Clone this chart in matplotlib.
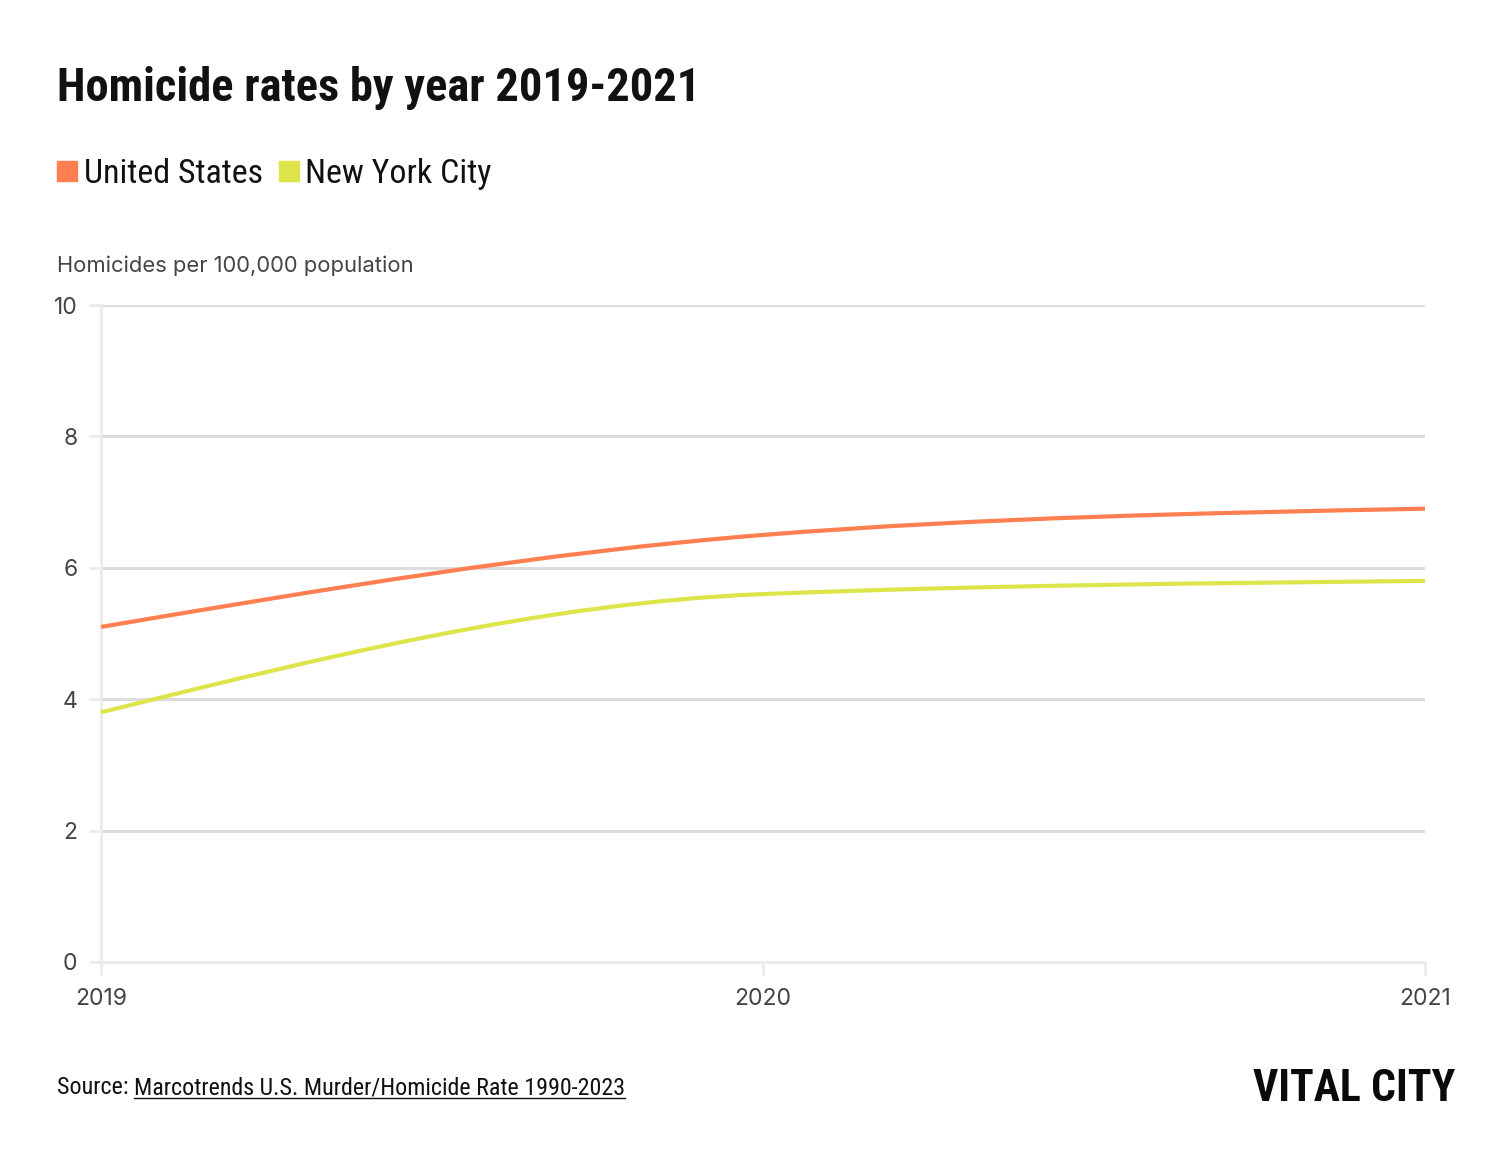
import matplotlib
matplotlib.use('Agg')
import matplotlib.pyplot as plt
import numpy as np
from matplotlib.path import Path
from matplotlib.patches import PathPatch, Rectangle

# ---- data ----
years = [2019, 2020, 2021]
us_rate = [5.1, 6.5, 6.9]
nyc_rate = [3.8, 5.6, 5.8]
series_names = ['United States', 'New York City']
series_colors = ['#ff7f50', '#dde54b']
y_ticks = [0, 2, 4, 6, 8, 10]

TEXT = '#111111'
MUTED = '#444444'
GRID = '#dcdcdc'
AXIS = '#ececec'
NARROW = ['Roboto Condensed', 'Liberation Sans Narrow', 'Roboto']

W, H = 1510, 1150


def fy(py):
    return 1 - py / H


def monotone_path(xs, ys):
    """Monotone cubic (d3 curveMonotoneX) as a bezier path through the data."""
    xs = np.asarray(xs, float)
    ys = np.asarray(ys, float)
    n = len(xs)
    s = np.diff(ys) / np.diff(xs)
    h = np.diff(xs)
    t = np.zeros(n)
    for i in range(1, n - 1):
        p = (s[i - 1] * h[i] + s[i] * h[i - 1]) / (h[i - 1] + h[i])
        t[i] = (np.sign(s[i - 1]) + np.sign(s[i])) * min(abs(s[i - 1]), abs(s[i]), 0.5 * abs(p))
    t[0] = (3 * s[0] - t[1]) / 2
    t[-1] = (3 * s[-1] - t[-2]) / 2
    verts = [(xs[0], ys[0])]
    codes = [Path.MOVETO]
    for i in range(n - 1):
        dx = (xs[i + 1] - xs[i]) / 3
        verts += [(xs[i] + dx, ys[i] + dx * t[i]),
                  (xs[i + 1] - dx, ys[i + 1] - dx * t[i + 1]),
                  (xs[i + 1], ys[i + 1])]
        codes += [Path.CURVE4] * 3
    return Path(verts, codes)


fig = plt.figure(figsize=(W / 100, H / 100), dpi=100)
fig.patch.set_facecolor('white')

ax = fig.add_axes([101 / W, fy(962), (1425 - 101) / W, (962 - 305) / H])
ax.set_xlim(years[0], years[-1])
ax.set_ylim(y_ticks[0], y_ticks[-1])

for v in y_ticks[1:]:
    ax.axhline(v, color=GRID, lw=2.2, zorder=1)

for ys, c in zip([us_rate, nyc_rate], series_colors):
    ax.add_patch(PathPatch(monotone_path(years, ys), fill=False,
                           edgecolor=c, lw=3.0, zorder=3,
                           capstyle='butt', clip_on=False))

for side in ['top', 'right']:
    ax.spines[side].set_visible(False)
for side in ['left', 'bottom']:
    ax.spines[side].set_color(AXIS)
    ax.spines[side].set_linewidth(2.2)

ax.set_yticks(y_ticks)
ax.set_yticklabels([str(v) for v in y_ticks])
ax.set_xticks(years)
ax.set_xticklabels([str(y) for y in years])
ax.tick_params(axis='y', length=9, width=2.2, color=AXIS, pad=8,
               labelsize=16.5, labelcolor=MUTED)
ax.tick_params(axis='x', length=9, width=2.2, color=AXIS, pad=10,
               labelsize=16.5, labelcolor=MUTED)
for lab in ax.get_xticklabels() + ax.get_yticklabels():
    lab.set_fontfamily('Inter')

# ---- title / legend / axis label ----
fig.text(57 / W, fy(101), 'Homicide rates by year 2019-2021',
         fontsize=33.5, fontweight='bold', family=NARROW,
         color=TEXT, va='baseline', ha='left')

fig.patches.append(Rectangle((57 / W, fy(181)), 20 / W, 20 / H,
                             transform=fig.transFigure, color=series_colors[0]))
fig.text(84 / W, fy(183), series_names[0], fontsize=24.5,
         family=NARROW, color=TEXT, va='baseline', ha='left')
fig.patches.append(Rectangle((279 / W, fy(181)), 20 / W, 20 / H,
                             transform=fig.transFigure, color=series_colors[1]))
fig.text(305 / W, fy(183), series_names[1], fontsize=24.5,
         family=NARROW, color=TEXT, va='baseline', ha='left')

fig.text(57 / W, fy(266), 'Homicides per 100,000 population',
         fontsize=15.8, family='Inter', color=MUTED, va='center', ha='left')

# ---- source + logo ----
src = fig.text(57 / W, fy(1094), 'Source: ', fontsize=17.3,
               family=NARROW, color=TEXT, va='baseline', ha='left')
fig.canvas.draw()
bb = src.get_window_extent()
link = fig.text(bb.x1 / W, fy(1094), 'Marcotrends U.S. Murder/Homicide Rate 1990-2023',
                fontsize=17.3, family=NARROW, color=TEXT,
                va='baseline', ha='left')
fig.canvas.draw()
lb = link.get_window_extent()
fig.add_artist(plt.Line2D([lb.x0 / W, lb.x1 / W], [fy(1097.5), fy(1097.5)],
                          transform=fig.transFigure, color=TEXT, lw=1.0))

fig.text(1455 / W, fy(1101), 'VITAL CITY', fontsize=31.5, fontweight='black',
         family=NARROW, color='#0a0a0a', va='baseline', ha='right')

fig.savefig('out.png', dpi=100, facecolor='white')
